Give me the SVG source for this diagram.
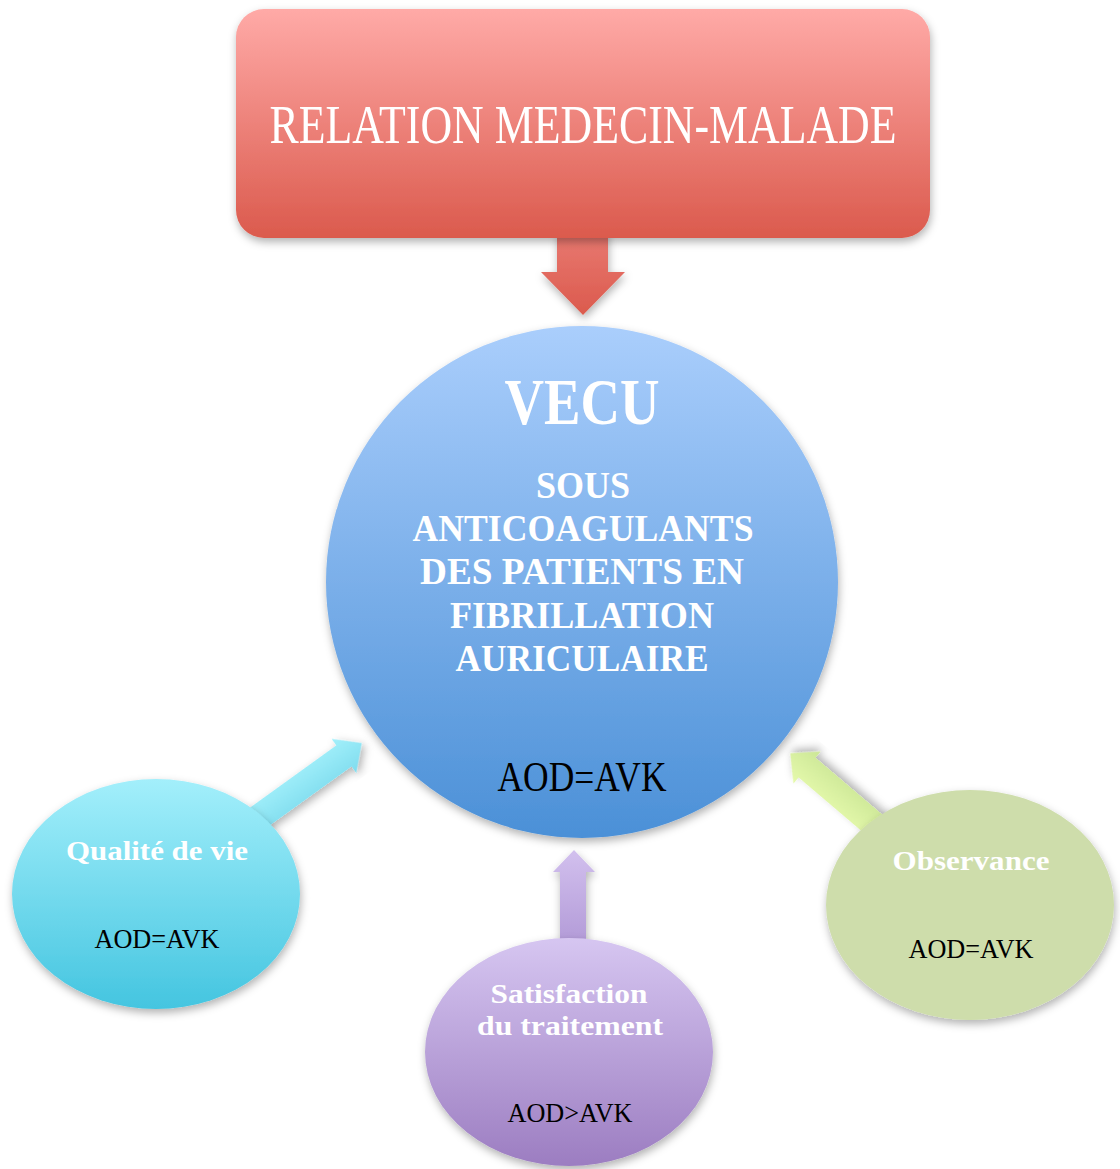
<svg xmlns="http://www.w3.org/2000/svg" width="1120" height="1169" viewBox="0 0 1120 1169">
<defs>
<style>
.t{font-family:"Liberation Serif","DejaVu Serif",serif;text-anchor:middle}
.w{fill:#ffffff;font-weight:bold}
.k{fill:#000000}
</style>
<filter id="sh" x="-10%" y="-10%" width="120%" height="125%">
<feDropShadow dx="1" dy="4" stdDeviation="4" flood-color="#000" flood-opacity="0.3"/>
</filter>
<linearGradient id="gRed" x1="0" y1="0" x2="0" y2="1"><stop offset="0" stop-color="#FFAAA7"/><stop offset="1" stop-color="#DB5A4D"/></linearGradient>
<linearGradient id="gRedA" x1="0" y1="0" x2="0" y2="1"><stop offset="0" stop-color="#E97A72"/><stop offset="1" stop-color="#DB5A4D"/></linearGradient>
<linearGradient id="gBlue" x1="0" y1="0" x2="0" y2="1"><stop offset="0" stop-color="#AACEFC"/><stop offset="1" stop-color="#4B90D7"/></linearGradient>
<linearGradient id="gCyan" x1="0" y1="0" x2="0" y2="1"><stop offset="0" stop-color="#A3EFFB"/><stop offset="1" stop-color="#44C5E0"/></linearGradient>
<linearGradient id="gCyanA" x1="0" y1="0" x2="0" y2="1"><stop offset="0" stop-color="#A3F0FB"/><stop offset="1" stop-color="#7FDCEE"/></linearGradient>
<linearGradient id="gPur" x1="0" y1="0" x2="0" y2="1"><stop offset="0" stop-color="#D6C6F1"/><stop offset="1" stop-color="#9C7DC1"/></linearGradient>
<linearGradient id="gPurA" x1="0" y1="0" x2="0" y2="1"><stop offset="0" stop-color="#D2C0EE"/><stop offset="1" stop-color="#B29AD7"/></linearGradient>
<linearGradient id="gGrnA" x1="0" y1="0" x2="0" y2="1"><stop offset="0" stop-color="#E6FAAC"/><stop offset="1" stop-color="#CBE696"/></linearGradient>
</defs>

<g id="connectors">
<polygon points="557,230 608,230 608,272 625,272 583,315 541,272 557,272" fill="url(#gRedA)" filter="url(#sh)"/>
<g transform="translate(262,815) rotate(-35.8)"><polygon points="-20,-13 101,-13 101,-21 123,0 101,21 101,13 -20,13" fill="url(#gCyanA)" filter="url(#sh)"/></g>
<polygon points="560,945 560,872 553,872 574,850 595,872 586,872 586,945" fill="url(#gPurA)" filter="url(#sh)"/>
<g transform="translate(871,822) rotate(220.4)"><polygon points="-20,-13 84,-13 84,-21 106,0 84,21 84,13 -20,13" fill="url(#gGrnA)" filter="url(#sh)"/></g>
</g>

<g id="relation">
<rect x="236" y="9" width="694" height="229" rx="28" fill="url(#gRed)" filter="url(#sh)"/>
<text class="t" x="583" y="143" font-size="54" fill="#ffffff" textLength="627" lengthAdjust="spacingAndGlyphs">RELATION MEDECIN-MALADE</text>
</g>

<g id="vecu">
<circle cx="582" cy="582" r="256" fill="url(#gBlue)" filter="url(#sh)"/>
<text class="t w" x="582" y="424" font-size="66" textLength="155" lengthAdjust="spacingAndGlyphs">VECU</text>
<text class="t w" x="583" y="498" font-size="37" textLength="94" lengthAdjust="spacingAndGlyphs">SOUS</text>
<text class="t w" x="583" y="541" font-size="37" textLength="341" lengthAdjust="spacingAndGlyphs">ANTICOAGULANTS</text>
<text class="t w" x="582" y="584" font-size="37" textLength="324" lengthAdjust="spacingAndGlyphs">DES PATIENTS EN</text>
<text class="t w" x="582" y="628" font-size="37" textLength="264" lengthAdjust="spacingAndGlyphs">FIBRILLATION</text>
<text class="t w" x="582" y="671" font-size="37" textLength="253" lengthAdjust="spacingAndGlyphs">AURICULAIRE</text>
<text class="t k" x="582" y="791" font-size="42" textLength="169" lengthAdjust="spacingAndGlyphs">AOD=AVK</text>
</g>

<g id="qualite">
<ellipse cx="156" cy="894" rx="144" ry="115" fill="url(#gCyan)" filter="url(#sh)"/>
<text class="t w" x="157" y="860" font-size="28" textLength="182" lengthAdjust="spacingAndGlyphs">Qualité de vie</text>
<text class="t k" x="157" y="948" font-size="28" textLength="125" lengthAdjust="spacingAndGlyphs">AOD=AVK</text>
</g>

<g id="satisfaction">
<ellipse cx="569" cy="1052" rx="144" ry="114" fill="url(#gPur)" filter="url(#sh)"/>
<text class="t w" x="569" y="1003" font-size="28" textLength="157" lengthAdjust="spacingAndGlyphs">Satisfaction</text>
<text class="t w" x="570" y="1035" font-size="28" textLength="186" lengthAdjust="spacingAndGlyphs">du traitement</text>
<text class="t k" x="570" y="1122" font-size="28" textLength="125" lengthAdjust="spacingAndGlyphs">AOD&gt;AVK</text>
</g>

<g id="observance">
<ellipse cx="970" cy="905" rx="144" ry="115" fill="#CEDDAB" filter="url(#sh)"/>
<text class="t w" x="971" y="870" font-size="28" textLength="157" lengthAdjust="spacingAndGlyphs">Observance</text>
<text class="t k" x="971" y="958" font-size="28" textLength="125" lengthAdjust="spacingAndGlyphs">AOD=AVK</text>
</g>
</svg>
